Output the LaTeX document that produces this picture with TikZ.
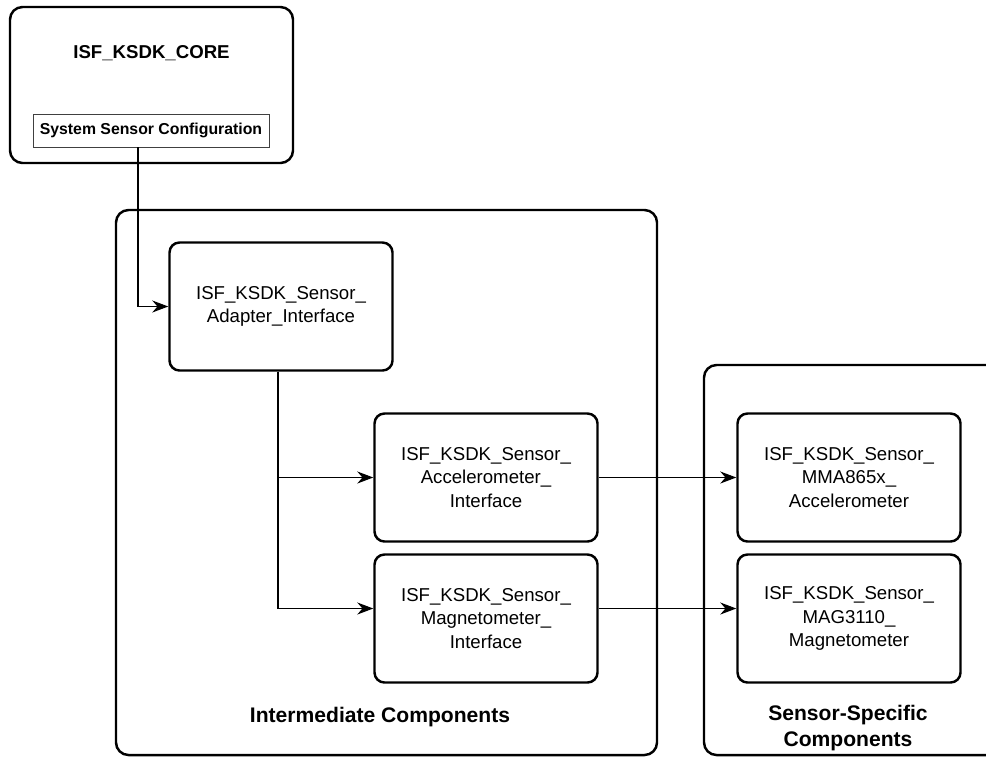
\documentclass[tikz,border=0pt]{standalone}
\usepackage{fontspec}
\setmainfont{Liberation Sans}
\usepackage{tikz}
\usetikzlibrary{positioning}
\usetikzlibrary{arrows.meta}
\tikzset{
  group/.style={draw, line width=1.4pt, rounded corners=0.25cm},
  block/.style={draw, line width=1.4pt, rounded corners=0.2cm, minimum width=4.46cm,
    minimum height=2.56cm, inner sep=0pt, align=center,
    font=\fontsize{10.6}{13.4}\selectfont},
  grouptitle/.style={font=\bfseries\fontsize{12}{15}\selectfont, align=center},
  link/.style={line width=0.6pt, -{Stealth[length=3.2mm,width=2.4mm]}},
}

\begin{document}
\begin{tikzpicture}[x=0.2mm,y=-0.2mm]
\useasboundingbox (0,0) rectangle (986,757);
\clip (0,0) rectangle (986,757);
% groups
\node[group, minimum width=5.66cm, minimum height=3.12cm] (core) at (151.5,85) {};
\node[group, minimum width=10.82cm, minimum height=10.9cm] (inter) at (386.5,482.5) {};
\node[group, minimum width=6.52cm, minimum height=7.8cm] (sensor) at (867,560) {};
\node[font=\bfseries\fontsize{10.6}{13}\selectfont] (coretitle) at (151.5,53) {ISF\_KSDK\_CORE};
\node[draw=darkgray, line width=0.5pt, minimum width=4.72cm, minimum height=0.66cm, inner sep=0pt,
  font=\bfseries\fontsize{9}{11}\selectfont] (syscfg) at (151,130.5) {System Sensor Configuration};
\node[grouptitle] (intertitle) at (380,717) {Intermediate Components};
\node[grouptitle] (sensortitle) at (848,728) {Sensor-Specific\\Components};

% blocks
\node[block] (adapter) at (281,306.5) {ISF\_KSDK\_Sensor\_\\Adapter\_Interface};
\node[block] (acc) at (486,477.5) {ISF\_KSDK\_Sensor\_\\Accelerometer\_\\Interface};
\node[block] (mag) at (486,618.5) {ISF\_KSDK\_Sensor\_\\Magnetometer\_\\Interface};
\node[block] (mma) at (849,477.5) {ISF\_KSDK\_Sensor\_\\MMA865x\_\\Accelerometer};
\node[block] (mag3110) at (849,618.5) {ISF\_KSDK\_Sensor\_\\MAG3110\_\\Magnetometer};

% links
\coordinate (cfgout) at ([xshift=-0.26cm]syscfg.south);
\coordinate (fork) at ([xshift=-0.06cm]adapter.south);
\coordinate (magrow) at (278,608.5);
\draw[link] (cfgout) |- (adapter.west);
\draw[link] (fork) |- (acc.west);
\draw[link] (fork) |- (magrow -| mag.west);
\draw[link] (acc.east) -- (mma.west);
\draw[link] (mag.east |- magrow) -- (mag3110.west |- magrow);
\end{tikzpicture}
\end{document}
